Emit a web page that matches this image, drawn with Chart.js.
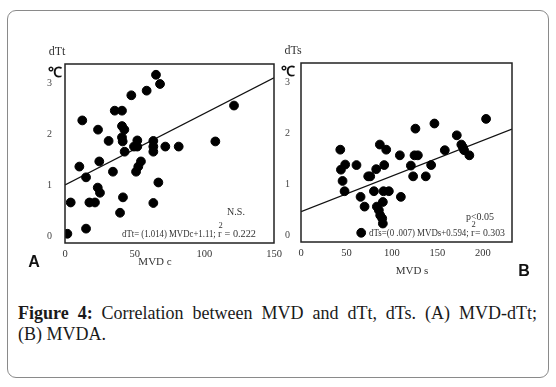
<!DOCTYPE html>
<html>
<head>
<meta charset="utf-8">
<script src="https://cdn.jsdelivr.net/npm/chart.js@4.4.1/dist/chart.umd.min.js"></script>
<style>
  body { margin: 0; background: #fff; }
  #wrap { position: relative; width: 556px; height: 387px; }
  #frame { position: absolute; left: 7px; top: 10px; width: 540px; height: 366px;
           border: 1.5px solid #8a8a8a; border-radius: 9px; }
  #cA { position: absolute; left: 0; top: 0; }
  #cB { position: absolute; left: 280px; top: 0; }
  #caption { position: absolute; left: 18px; top: 303px; width: 519px;
             font-family: "Liberation Serif", serif; font-size: 18px; line-height: 21px;
             color: #1a1a1a; }
  #caption .l1 { text-align: justify; text-align-last: justify; white-space: nowrap; }
</style>
</head>
<body>
<div id="wrap">
  <div id="frame"></div>
  <canvas id="cA" width="292" height="290"></canvas>
  <canvas id="cB" width="276" height="290"></canvas>
  <div id="caption">
    <div class="l1"><b>Figure 4:</b> Correlation between MVD and dTt, dTs. (A) MVD-dTt;</div>
    <div>(B) MVDA.</div>
  </div>
</div>
<script>
// tick labels
const yTicks = [0, 1, 2, 3];
const xTicksA = [0, 50, 100, 150];
const xTicksB = [0, 50, 100, 150, 200];

// panel A: MVD c vs dTt
const mvdC = [1.7, 4.1, 15.1, 17.5, 21.5, 15.1, 10.3, 12.4, 23.7, 24.6, 23.5, 25.1, 31.3, 34.4,
  35.7, 40.9, 40.9, 42.6, 40.9, 41.4, 42.8, 41.6, 39.5, 47.6, 49.5, 51.9, 51.9, 51.0, 52.6, 54.5,
  58.6, 65.3, 68.2, 63.4, 63.4, 63.4, 63.4, 67.0, 72.0, 81.6, 107.9, 121.3];
const dTt = [0.06, 0.67, 0.16, 0.67, 0.67, 1.16, 1.37, 2.27, 2.09, 1.47, 0.96, 0.86, 1.87, 1.27,
  2.46, 2.46, 2.16, 2.09, 1.94, 1.86, 1.66, 0.77, 0.47, 2.76, 1.76, 1.88, 1.76, 1.27, 1.37, 1.47,
  2.85, 3.16, 2.98, 1.87, 1.76, 1.66, 0.66, 1.06, 1.76, 1.76, 1.86, 2.56];
const fitAx = [0, 150];
const fitAy = [1.01, 3.1];

// panel B: MVD s vs dTs
const mvdS = [43.2, 43.9, 48.6, 45.7, 47.9, 61.0, 65.5, 69.9, 66.2, 73.9, 76.1, 80.2, 82.7, 86.7,
  93.7, 91.5, 90.7, 96.6, 83.4, 85.6, 90.0, 87.1, 89.3, 90.0, 109.8, 108.7, 120.8, 123.3, 124.8,
  128.5, 125.8, 137.2, 143.1, 146.7, 158.1, 171.3, 176.3, 177.9, 179.3, 185.1, 203.5];
const dTs = [1.68, 1.29, 1.39, 1.07, 0.87, 1.38, 0.76, 0.57, 0.06, 1.16, 1.16, 0.87, 1.30, 1.78,
  1.68, 1.38, 0.87, 0.87, 0.57, 0.50, 0.66, 0.40, 0.34, 0.24, 0.76, 1.57, 1.37, 1.16, 1.57,
  1.57, 2.09, 1.16, 1.38, 2.19, 1.67, 1.96, 1.78, 1.73, 1.67, 1.57, 2.28];
const fitBx = [0, 232];
const fitBy = [0.47, 2.08];

const serif = '"Liberation Serif", serif';

function pts(xs, ys) {
    return xs.map((x, i) => ({ x: x, y: ys[i] }));
}

// squeeze text into a given width (the figure uses a narrow face)
function fitText(ctx, str, x, y, w) {
    const m = ctx.measureText(str).width;
    const k = Math.min(1, w / m);
    ctx.save();
    ctx.translate(x, y);
    ctx.scale(k, 1);
    ctx.fillText(str, 0, 0);
    ctx.restore();
    return m * k;
}

// frame + labels drawn around the plot box
const panelText = {
    id: 'panelText',
    afterDraw(chart, args, opts) {
        const ctx = chart.ctx;
        const a = chart.chartArea;
        ctx.save();
        ctx.strokeStyle = '#222';
        ctx.lineWidth = 1.5;
        ctx.strokeRect(a.left, a.top, a.right - a.left, a.bottom - a.top);

        ctx.fillStyle = '#333';
        ctx.textAlign = 'center';
        ctx.textBaseline = 'middle';
        ctx.font = '12px ' + serif;
        ctx.fillText(opts.yName, a.left - 8, a.top - 12);
        ctx.fillStyle = '#111';
        ctx.font = 'bold 14px ' + serif;
        ctx.fillText('℃', a.left + opts.degDx, a.top + 9);

        ctx.fillStyle = '#333';
        ctx.font = '11px ' + serif;
        ctx.fillText(opts.xName, opts.xNameX, a.bottom + opts.xNameDy);

        // equation
        ctx.textAlign = 'left';
        ctx.font = '10.5px ' + serif;
        const y = a.bottom - 9;
        let x = opts.eqX;
        x += fitText(ctx, opts.eq, x, y, opts.eqW1);
        ctx.font = '8.5px ' + serif;
        ctx.fillText('2', x + 0.5, y - 8);
        ctx.font = '10.5px ' + serif;
        ctx.fillText('r', x, y);
        fitText(ctx, opts.eqEnd, x + 4, y, opts.eqW2);

        ctx.textAlign = 'center';
        ctx.font = '10px ' + serif;
        ctx.fillText(opts.sig, opts.sigX, opts.sigY);

        ctx.fillStyle = '#111';
        ctx.font = 'bold 16px "Liberation Sans", sans-serif';
        ctx.fillText(opts.panel, opts.panelX, opts.panelY);
        ctx.restore();
    }
};

function makeChart(id, xs, ys, fx, fy, xMax, xTicks, box, text) {
    const ctx = document.getElementById(id).getContext('2d');
    return new Chart(ctx, {
        type: 'scatter',
        data: {
            datasets: [{
                data: pts(xs, ys),
                backgroundColor: '#000',
                borderColor: '#000',
                pointRadius: 4.4,
                pointHoverRadius: 4.4
            }, {
                type: 'line',
                data: pts(fx, fy),
                borderColor: '#111',
                borderWidth: 1.3,
                pointRadius: 0,
                fill: false
            }]
        },
        options: {
            responsive: false,
            animation: false,
            events: [],
            layout: { padding: { left: 0, right: box.right, top: box.top, bottom: 0 } },
            plugins: {
                legend: { display: false },
                tooltip: { enabled: false },
                panelText: text
            },
            scales: {
                x: {
                    type: 'linear',
                    min: 0,
                    max: xMax,
                    afterFit: s => { s.height = box.bottom; s.paddingLeft = 0; s.paddingRight = 0; },
                    afterBuildTicks: s => { s.ticks = xTicks.map(v => ({ value: v })); },
                    grid: { display: false, drawTicks: false },
                    border: { display: false },
                    ticks: { color: '#333', padding: 5, font: { family: serif, size: 10.5 } }
                },
                y: {
                    min: -0.12,
                    max: 3.37,
                    afterFit: s => { s.width = box.left; s.paddingTop = 0; s.paddingBottom = 0; },
                    afterBuildTicks: s => { s.ticks = yTicks.map(v => ({ value: v })); },
                    grid: { display: false, drawTicks: false },
                    border: { display: false },
                    ticks: { color: '#444', padding: box.tickPad, font: { family: serif, size: 10 } }
                }
            }
        },
        plugins: [panelText]
    });
}

makeChart('cA', mvdC, dTt, fitAx, fitAy, 150, xTicksA,
    { left: 65, right: 18, top: 64, bottom: 47, tickPad: 13 },
    { yName: 'dTt', degDx: -10, xName: 'MVD c', xNameX: 155, xNameDy: 19,
      eq: 'dTt= (1.014) MVDc+1.11; ', eqEnd: ' = 0.222', eqX: 122, eqW1: 96, eqW2: 34,
      sig: 'N.S.', sigX: 236, sigY: 212, panel: 'A', panelX: 34, panelY: 263 });

makeChart('cB', mvdS, dTs, fitBx, fitBy, 232, xTicksB,
    { left: 21, right: 44, top: 63, bottom: 48, tickPad: 11 },
    { yName: 'dTs', degDx: -13, xName: 'MVD s', xNameX: 132, xNameDy: 29,
      eq: 'dTs=(0 .007) MVDs+0.594; ', eqEnd: '= 0.303', eqX: 89, eqW1: 102, eqW2: 30,
      sig: 'p<0.05', sigX: 200, sigY: 217, panel: 'B', panelX: 244, panelY: 272 });
</script>
</body>
</html>
